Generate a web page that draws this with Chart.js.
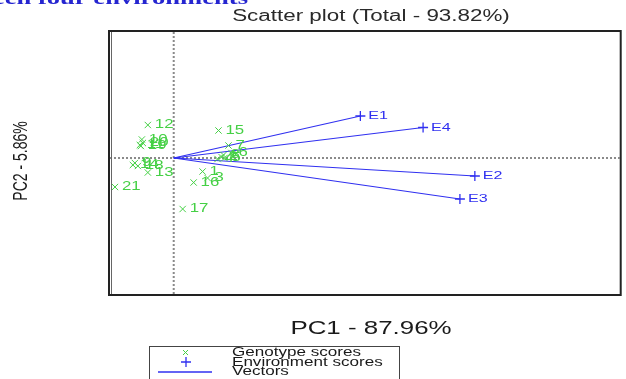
<!DOCTYPE html>
<html>
<head>
<meta charset="utf-8">
<script src="https://cdn.jsdelivr.net/npm/chart.js@4/dist/chart.umd.min.js"></script>
<style>
  html, body { margin: 0; padding: 0; background: #fff; }
  canvas { display: block; }
</style>
</head>
<body>
<canvas id="c" width="626" height="379"></canvas>
<script>
// Genotype scores on the first two principal components
const genotypeLabels = ['1','2','3','4','5','6','7','8','9','10','11','12','13','14','15','16','17','18','19','20','21'];
const genotypePC1 = [0.58, 0.96, 0.68, 0.88, 1.02, 1.16, 1.10, 1.00, -0.78, -0.64, -0.68, -0.52, -0.52, -0.82, 0.90, 0.40, 0.18, -0.72, -0.66, -0.62, -1.18];
const genotypePC2 = [-0.27, 0.02, -0.40, -0.02, 0.00, 0.10, 0.25, 0.06, -0.10, 0.37, 0.26, 0.66, -0.29, -0.14, 0.55, -0.49, -1.02, -0.16, 0.24, 0.30, -0.58];

// Environment scores (vector end points)
const envLabels = ['E1', 'E2', 'E3', 'E4'];
const envPC1 = [3.75, 6.05, 5.75, 5.01];
const envPC2 = [0.84, -0.36, -0.82, 0.61];

const titleText = 'Scatter plot (Total - 93.82%)';
const xTitle = 'PC1 - 87.96%';
const yTitle = 'PC2 - 5.86%';
const legendLabels = ['Genotype scores', 'Environment scores', 'Vectors'];

const GREEN = '#45d045';
const BLUE = '#3030f0';
const SX = 1.4;   // horizontal text stretch
const SANS = '"Liberation Sans", Arial, sans-serif';

function sText(ctx, txt, x, y, size, color, align, sx, family, weight) {
  ctx.save();
  ctx.translate(x, y);
  ctx.scale(sx || SX, 1);
  ctx.font = (weight ? weight + ' ' : '') + size + 'px ' + (family || SANS);
  ctx.textAlign = align || 'left';
  ctx.textBaseline = 'middle';
  ctx.fillStyle = color;
  ctx.fillText(txt, 0, 0);
  ctx.restore();
}

const genotypePoints = genotypePC1.map((x, i) => ({ x: x, y: genotypePC2[i] }));
const envPoints = envPC1.map((x, i) => ({ x: x, y: envPC2[i] }));

const vectorSets = envPoints.map(p => ({
  label: 'vector',
  data: [{ x: 0, y: 0 }, p],
  showLine: true,
  borderColor: BLUE,
  borderWidth: 1.2,
  pointRadius: 0,
  fill: false
}));

const decorations = {
  id: 'decorations',
  beforeDatasetsDraw(chart) {
    const ctx = chart.ctx;
    const xs = chart.scales.x, ys = chart.scales.y;
    const a = chart.chartArea;
    const x0 = xs.getPixelForValue(0), y0 = ys.getPixelForValue(0);
    ctx.save();
    ctx.strokeStyle = '#8a8a8a';
    ctx.lineWidth = 2;
    ctx.setLineDash([2, 2]);
    ctx.beginPath();
    ctx.moveTo(a.left, y0); ctx.lineTo(a.right, y0);
    ctx.moveTo(x0, a.top); ctx.lineTo(x0, a.bottom);
    ctx.stroke();
    ctx.restore();
  },
  afterDatasetsDraw(chart) {
    const ctx = chart.ctx;
    const a = chart.chartArea;
    // point labels
    chart.getDatasetMeta(0).data.forEach((el, i) => {
      sText(ctx, genotypeLabels[i], el.x + 7, el.y, 12, GREEN, 'left');
    });
    chart.getDatasetMeta(1).data.forEach((el, i) => {
      sText(ctx, envLabels[i], el.x + 8, el.y, 11.5, BLUE, 'left');
    });
    // frame
    ctx.save();
    ctx.strokeStyle = '#222';
    ctx.lineWidth = 2;
    ctx.strokeRect(a.left - 1, a.top - 1, a.right - a.left + 2, a.bottom - a.top + 2);
    ctx.lineWidth = 1;
    ctx.beginPath();
    ctx.moveTo(a.left + 1.5, a.top);
    ctx.lineTo(a.left + 1.5, a.bottom);
    ctx.strokeStyle = '#666';
    ctx.stroke();
    ctx.restore();

    // titles
    sText(ctx, titleText, 371, 17, 16, '#2a2a2a', 'center');
    sText(ctx, xTitle, 371, 329, 18.5, '#1a1a1a', 'center');
    ctx.save();
    ctx.translate(22, 161);
    ctx.rotate(-Math.PI / 2);
    ctx.scale(1, SX);
    ctx.font = '14px ' + SANS;
    ctx.textAlign = 'center';
    ctx.textBaseline = 'middle';
    ctx.fillStyle = '#1a1a1a';
    ctx.fillText(yTitle, 0, 0);
    ctx.restore();

    // heading above the chart
    ctx.save();
    ctx.translate(248, 3.5);
    ctx.scale(1.4, 1);
    ctx.font = 'bold 19px "Liberation Serif", "Times New Roman", serif';
    ctx.textAlign = 'right';
    ctx.textBaseline = 'alphabetic';
    ctx.fillStyle = '#2525d0';
    ctx.fillText('between four environments', 0, 0);
    ctx.restore();

    // legend
    ctx.save();
    ctx.strokeStyle = '#444';
    ctx.lineWidth = 1;
    ctx.strokeRect(149.5, 346.5, 250, 40);
    // genotype marker
    ctx.strokeStyle = GREEN;
    ctx.beginPath();
    ctx.moveTo(183, 350); ctx.lineTo(188, 355);
    ctx.moveTo(188, 350); ctx.lineTo(183, 355);
    ctx.stroke();
    // environment marker
    ctx.strokeStyle = BLUE;
    ctx.lineWidth = 1.3;
    ctx.beginPath();
    ctx.moveTo(181, 362); ctx.lineTo(191, 362);
    ctx.moveTo(186, 357); ctx.lineTo(186, 367);
    ctx.stroke();
    // vector line
    ctx.beginPath();
    ctx.moveTo(158, 372); ctx.lineTo(212, 372);
    ctx.stroke();
    ctx.restore();
    sText(ctx, legendLabels[0], 232, 353, 12.2, '#1a1a1a', 'left');
    sText(ctx, legendLabels[1], 232, 362.5, 12.2, '#1a1a1a', 'left');
    sText(ctx, legendLabels[2], 232, 372, 12.2, '#1a1a1a', 'left');
  }
};

new Chart(document.getElementById('c'), {
  type: 'scatter',
  data: {
    datasets: [
      {
        label: legendLabels[0],
        data: genotypePoints,
        pointStyle: 'crossRot',
        pointRadius: 4.5,
        borderColor: GREEN,
        backgroundColor: GREEN,
        borderWidth: 1
      },
      {
        label: legendLabels[1],
        data: envPoints,
        pointStyle: 'cross',
        pointRadius: 5,
        borderColor: BLUE,
        backgroundColor: BLUE,
        borderWidth: 1.3
      },
      ...vectorSets
    ]
  },
  options: {
    responsive: false,
    animation: false,
    devicePixelRatio: 1,
    layout: { padding: { left: 110, right: 4, top: 32, bottom: 85 } },
    plugins: { legend: { display: false }, title: { display: false }, tooltip: { enabled: false } },
    scales: {
      x: { type: 'linear', min: -1.28, max: 8.96, display: false },
      y: { type: 'linear', min: -2.72, max: 2.52, display: false }
    }
  },
  plugins: [decorations]
});
</script>
</body>
</html>
